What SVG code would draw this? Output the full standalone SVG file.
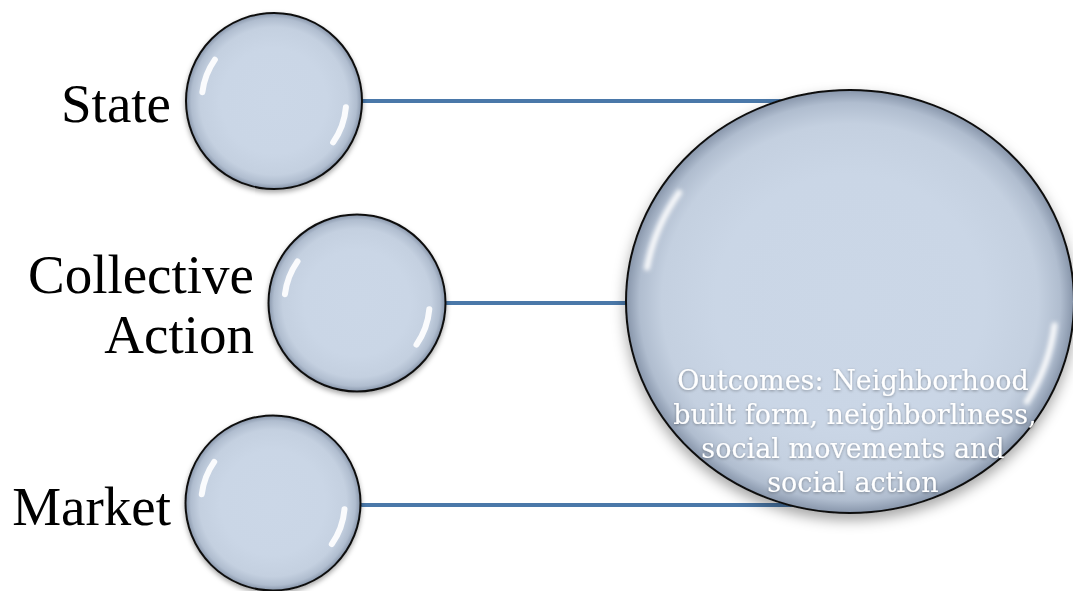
<svg xmlns="http://www.w3.org/2000/svg" xmlns:xlink="http://www.w3.org/1999/xlink" width="1073" height="591" viewBox="0 0 1073 591">
<style>
.lbl{font-family:"Liberation Serif","Times New Roman",serif;font-size:55px;fill:#000;text-anchor:end}
.out{font-family:"DejaVu Serif","Liberation Serif",serif;font-size:27px;fill:#ffffff;text-anchor:middle}
.conn{stroke:#4a78a9;stroke-width:4;fill:none}
.body{fill:url(#bodyGrad);stroke:#111;stroke-width:2;vector-effect:non-scaling-stroke}
.hl{fill:none;stroke:#ffffff;stroke-width:6;stroke-linecap:round;stroke-opacity:0.92;vector-effect:non-scaling-stroke}
</style>
<defs>
<radialGradient id="bodyGrad" cx="0.5" cy="0.5" r="0.5">
<stop offset="0" stop-color="#cbd7e7"/>
<stop offset="0.6" stop-color="#cad6e6"/>
<stop offset="0.84" stop-color="#c4d0e0"/>
<stop offset="0.94" stop-color="#b0bdcf"/>
<stop offset="1" stop-color="#8795aa"/>
</radialGradient>
<filter id="shadow" x="-20%" y="-20%" width="140%" height="150%">
<feDropShadow dx="0" dy="3" stdDeviation="3" flood-color="#000" flood-opacity="0.35"/>
</filter>
<filter id="soft" x="-50%" y="-50%" width="200%" height="200%">
<feGaussianBlur stdDeviation="0.9"/>
</filter>
<filter id="txtShadow" x="-10%" y="-30%" width="120%" height="160%">
<feDropShadow dx="0" dy="1" stdDeviation="1.5" flood-color="#000" flood-opacity="0.35"/>
</filter>
<g id="smallBubble">
<circle class="body" cx="0" cy="0" r="100" filter="url(#shadow)"/>
<g filter="url(#soft)">
<path class="hl" d="M-81.4,-10 A82,82 0 0 1 -67.2,-47"/>
<path class="hl" d="M81.7,7.1 A82,82 0 0 1 67.2,47"/>
</g>
</g>
</defs>

<g id="connectors">
<line class="conn" x1="360" y1="101" x2="800" y2="101"/>
<line class="conn" x1="444" y1="303" x2="660" y2="303"/>
<line class="conn" x1="360" y1="505" x2="800" y2="505"/>
</g>

<g id="node-state">
<use xlink:href="#smallBubble" href="#smallBubble" transform="translate(274,101) scale(0.88)"/>
<text class="lbl" x="171" y="122">State</text>
</g>

<g id="node-collective-action">
<use xlink:href="#smallBubble" href="#smallBubble" transform="translate(357,303) scale(0.885)"/>
<text class="lbl" x="254" y="293">Collective</text>
<text class="lbl" x="254" y="353">Action</text>
</g>

<g id="node-market">
<use xlink:href="#smallBubble" href="#smallBubble" transform="translate(273,503) scale(0.875)"/>
<text class="lbl" x="171" y="525">Market</text>
</g>

<g id="node-outcomes">
<g transform="translate(850,301.5) scale(2.24,2.115)">
<circle class="body" cx="0" cy="0" r="100" filter="url(#shadow)"/>
<g filter="url(#soft)">
<path class="hl" d="M-90.6,-16 A92,92 0 0 1 -76.3,-51.4"/>
<path class="hl" d="M91.3,11.2 A92,92 0 0 1 78.9,47.4"/>
</g>
</g>
<g filter="url(#txtShadow)">
<text class="out" x="853" y="390">Outcomes: Neighborhood</text>
<text class="out" x="855" y="424">built form, neighborliness,</text>
<text class="out" x="853" y="458">social movements and</text>
<text class="out" x="853" y="492">social action</text>
</g>
</g>
</svg>
